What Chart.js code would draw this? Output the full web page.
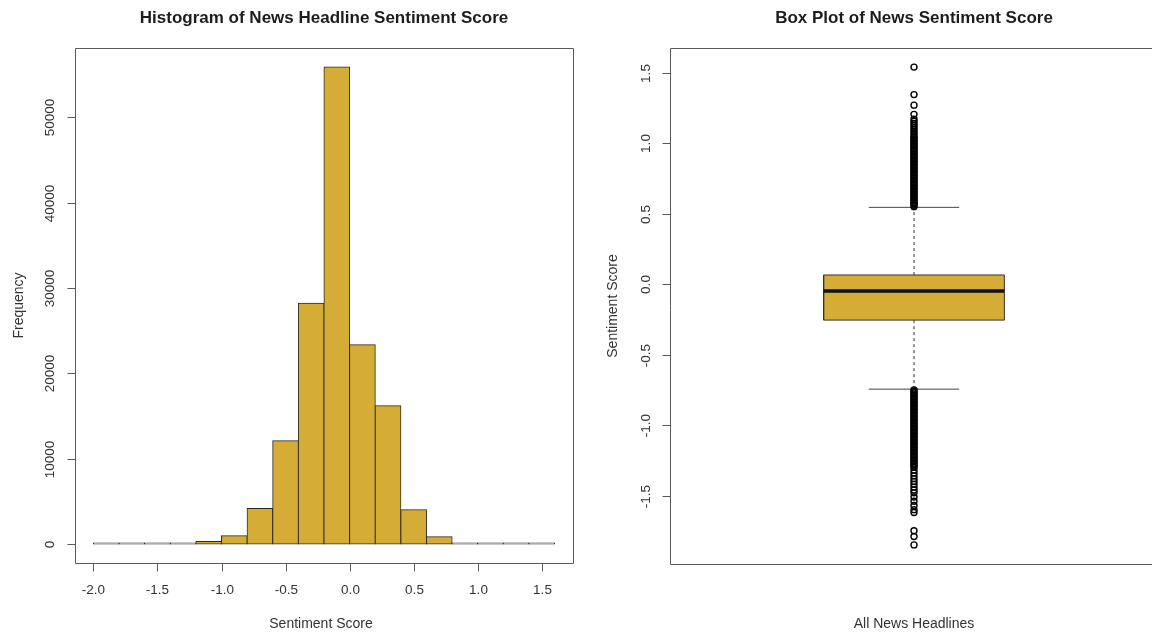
<!DOCTYPE html>
<html><head><meta charset="utf-8">
<script src="https://cdn.jsdelivr.net/npm/chart.js@4.4.1/dist/chart.umd.min.js"></script>
<style>
html,body{margin:0;padding:0;background:#fff;width:1152px;height:635px;overflow:hidden;}
#w1{position:absolute;left:0;top:0;width:576px;height:635px;}
#w2{position:absolute;left:576px;top:0;width:600px;height:635px;}
canvas{display:block;}
</style></head><body>
<div id="w1"><canvas id="c1" width="576" height="635"></canvas></div>
<div id="w2"><canvas id="c2" width="600" height="635"></canvas></div>
<script>
// ---------- Histogram data ----------
const binEdges = [-2.0,-1.8,-1.6,-1.4,-1.2,-1.0,-0.8,-0.6,-0.4,-0.2,0.0,0.2,0.4,0.6,0.8,1.0,1.2,1.4,1.6];
const binCounts = [1,2,8,80,280,950,4150,12100,28200,55900,23350,16200,4000,850,110,10,2,1];
const histXTicks = ['-2.0','-1.5','-1.0','-0.5','0.0','0.5','1.0','1.5'];
const histYTicks = ['0','10000','20000','30000','40000','50000'];

// ---------- Box plot data ----------
const boxFiveNumbers = [-0.745, -0.255, -0.048, 0.065, 0.545]; // lower whisker, Q1, median, Q3, upper whisker
const upperOutliers = [1.54,1.345,1.27,1.205,1.17,1.155,1.14,1.125,1.11,1.095,1.08,1.065,1.05,1.04,1.03,1.02,1.01,1.00,0.99,0.98,0.97,0.96,0.95,0.94,0.93,0.92,0.91,0.90,0.89,0.88,0.87,0.86,0.85,0.84,0.83,0.82,0.81,0.80,0.79,0.78,0.77,0.76,0.75,0.74,0.73,0.72,0.71,0.70,0.69,0.68,0.67,0.66,0.65,0.64,0.63,0.62,0.61,0.60,0.59,0.58,0.57,0.56,0.55];
const lowerOutliers = [-0.75,-0.76,-0.77,-0.78,-0.79,-0.80,-0.81,-0.82,-0.83,-0.84,-0.85,-0.86,-0.87,-0.88,-0.89,-0.90,-0.91,-0.92,-0.93,-0.94,-0.95,-0.96,-0.97,-0.98,-0.99,-1.00,-1.01,-1.02,-1.03,-1.04,-1.05,-1.06,-1.07,-1.08,-1.09,-1.10,-1.11,-1.12,-1.13,-1.14,-1.15,-1.16,-1.17,-1.18,-1.19,-1.20,-1.21,-1.22,-1.23,-1.24,-1.25,-1.26,-1.27,-1.28,-1.29,-1.30,-1.32,-1.34,-1.36,-1.38,-1.40,-1.42,-1.44,-1.46,-1.48,-1.51,-1.54,-1.57,-1.60,-1.62,-1.75,-1.79,-1.85];
const boxYTicks = ['-1.5','-1.0','-0.5','0.0','0.5','1.0','1.5'];
const boxCategory = 'All News Headlines';

// ---------- styles ----------
const FONT = "'Liberation Sans', Arial, Helvetica, sans-serif";
const GOLD = '#D5AD36';
const EDGE = '#2e2a20';

// R-like axes/frame plugin (uses the chart's own scales)
const rAxes = {
  id: 'rAxes',
  afterDraw(chart, args, o) {
    const {ctx, chartArea: a, scales} = chart;
    ctx.save();
    ctx.strokeStyle = o.frameColor; ctx.lineWidth = 1;
    const L = Math.round(a.left) + 0.5, T = Math.round(a.top) + 0.5, B = Math.round(a.bottom) + 0.5, R = Math.round(a.right) + 0.5;
    ctx.beginPath();
    ctx.moveTo(L, T); ctx.lineTo(R, T); ctx.lineTo(R, B); ctx.lineTo(L, B); ctx.closePath();
    ctx.stroke();
    ctx.font = o.tickFont; ctx.fillStyle = o.textColor;
    if (o.xTicks) {
      o.xTicks.forEach(lab => {
        const px = Math.round(scales.x.getPixelForValue(parseFloat(lab))) + 0.5;
        ctx.beginPath(); ctx.moveTo(px, B); ctx.lineTo(px, B + 8); ctx.stroke();
        ctx.textAlign = 'center'; ctx.textBaseline = 'middle';
        ctx.fillText(lab, px, B + o.xTickOffset);
      });
    }
    o.yTicks.forEach(lab => {
      const py = Math.round(scales.y.getPixelForValue(parseFloat(lab))) + 0.5;
      ctx.beginPath(); ctx.moveTo(L - 8, py); ctx.lineTo(L, py); ctx.stroke();
      ctx.save(); ctx.translate(L - o.yTickOffset, py); ctx.rotate(-Math.PI / 2);
      ctx.textAlign = 'center'; ctx.textBaseline = 'middle'; ctx.fillText(lab, 0, 0);
      ctx.restore();
    });
    ctx.font = o.labelFont;
    ctx.textAlign = 'center'; ctx.textBaseline = 'middle';
    ctx.fillText(o.xLabel, (a.left + a.right) / 2 + (o.xLabelShift || 0), B + o.xLabelOffset);
    ctx.save(); ctx.translate(L - o.yLabelOffset, (a.top + a.bottom) / 2); ctx.rotate(-Math.PI / 2);
    ctx.fillText(o.yLabel, 0, 0); ctx.restore();
    ctx.restore();
  }
};

const titleOpts = (text) => ({
  display: true, text, color: '#1c1c1c',
  font: {family: FONT, size: 17, weight: 'bold', lineHeight: 1.2},
  padding: {top: 8, bottom: 19.6}
});

// ---------- Histogram ----------
const histData = binCounts.map((c, i) => ({x: (binEdges[i] + binEdges[i + 1]) / 2, y: c}));
const hx0 = binEdges[0], hx1 = binEdges[binEdges.length - 1];
const hxExt = 0.04 * (hx1 - hx0);
const hyMax = Math.max(...binCounts);
const hyExt = 0.04 * hyMax;

new Chart(document.getElementById('c1'), {
  type: 'bar',
  data: {datasets: [{
    data: histData, backgroundColor: GOLD, borderColor: EDGE, borderWidth: 1,
    borderSkipped: false, barPercentage: 1, categoryPercentage: 1, minBarLength: 1, inflateAmount: 0.5
  }]},
  options: {
    responsive: false, animation: false, events: [],
    layout: {padding: {left: 75, right: 3, top: 0, bottom: 72}},
    scales: {
      x: {type: 'linear', min: hx0 - hxExt, max: hx1 + hxExt, offset: false, display: false},
      y: {type: 'linear', min: -hyExt, max: hyMax + hyExt, display: false}
    },
    plugins: {
      legend: {display: false}, tooltip: {enabled: false},
      title: titleOpts('Histogram of News Headline Sentiment Score'),
      rAxes: {frameColor: '#5a5a5a', textColor: '#333', tickFont: '13.5px ' + FONT, labelFont: '14px ' + FONT,
        xTicks: histXTicks, yTicks: histYTicks, xTickOffset: 27, yTickOffset: 25,
        xLabel: 'Sentiment Score', yLabel: 'Frequency', xLabelOffset: 61, yLabelOffset: 56, xLabelShift: -3}
    }
  },
  plugins: [rAxes]
});

// ---------- Box plot ----------
const [wLo, q1, med, q3, wHi] = boxFiveNumbers;
const allVals = [...upperOutliers, ...lowerOutliers, ...boxFiveNumbers];
const by0 = Math.min(...allVals), by1 = Math.max(...allVals);
const byExt = 0.04 * (by1 - by0);
const bxC = 1, bHW = 0.2, capHW = 0.1;
const seg = (pts, extra) => Object.assign({type: 'line', data: pts, showLine: true, pointRadius: 0, fill: false, borderColor: '#333', borderWidth: 1}, extra);
const outlierPts = [...upperOutliers, ...lowerOutliers].map(v => ({x: bxC, y: v}));

new Chart(document.getElementById('c2'), {
  type: 'scatter',
  data: {datasets: [
    {type: 'scatter', label: boxCategory, data: outlierPts, pointRadius: 3, pointBorderWidth: 1.4,
      pointBackgroundColor: 'rgba(255,255,255,0)', pointBorderColor: '#000', order: 0},
    seg([{x: bxC - bHW, y: med}, {x: bxC + bHW, y: med}], {borderWidth: 3.5, borderColor: '#111', order: 1}),
    seg([{x: bxC - bHW, y: q1}, {x: bxC + bHW, y: q1}, {x: bxC + bHW, y: q3}, {x: bxC - bHW, y: q3}, {x: bxC - bHW, y: q1}],
      {fill: 'shape', backgroundColor: GOLD, borderColor: '#333', order: 2}),
    seg([{x: bxC, y: q3}, {x: bxC, y: wHi}], {borderDash: [3, 3], order: 3}),
    seg([{x: bxC, y: q1}, {x: bxC, y: wLo}], {borderDash: [3, 3], order: 3}),
    seg([{x: bxC - capHW, y: wHi}, {x: bxC + capHW, y: wHi}], {borderColor: '#444', order: 3}),
    seg([{x: bxC - capHW, y: wLo}, {x: bxC + capHW, y: wLo}], {borderColor: '#444', order: 3})
  ]},
  options: {
    responsive: false, animation: false, events: [],
    layout: {padding: {left: 94, right: 18, top: 0, bottom: 71}},
    scales: {
      x: {type: 'linear', min: 0.46, max: 1.54, display: false},
      y: {type: 'linear', min: by0 - byExt, max: by1 + byExt, display: false}
    },
    plugins: {
      legend: {display: false}, tooltip: {enabled: false},
      title: titleOpts('Box Plot of News Sentiment Score'),
      rAxes: {frameColor: '#5a5a5a', textColor: '#333', tickFont: '13.5px ' + FONT, labelFont: '14px ' + FONT,
        xTicks: null, yTicks: boxYTicks, xTickOffset: 27, yTickOffset: 24,
        xLabel: boxCategory, yLabel: 'Sentiment Score', xLabelOffset: 60, yLabelOffset: 57}
    }
  },
  plugins: [rAxes]
});
</script>
</body></html>
